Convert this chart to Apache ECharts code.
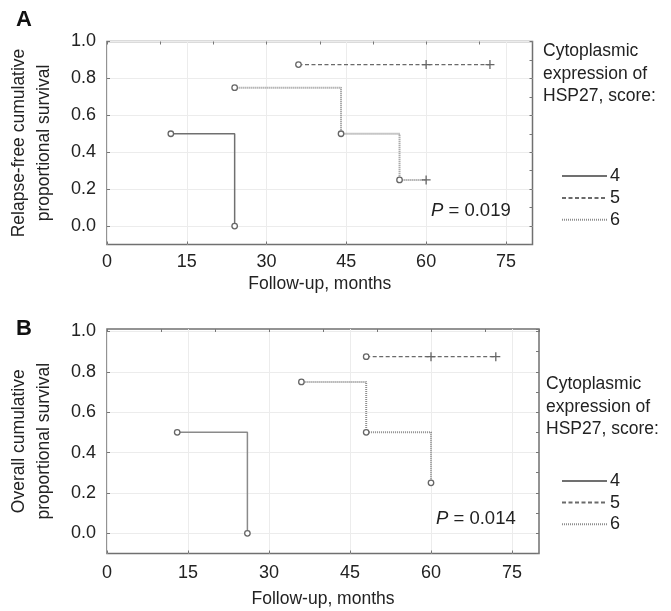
<!DOCTYPE html>
<html>
<head>
<meta charset="utf-8">
<script src="https://cdn.jsdelivr.net/npm/echarts@6/dist/echarts.min.js"></script>
<style>
html, body { margin: 0; background: #fff; }
#chart { width: 671px; height: 611px; }
</style>
</head>
<body>
<div id="chart"></div>
<script>
// tick labels
const monthTicks = [0, 15, 30, 45, 60, 75]
const survTicks = [0, 0.2, 0.4, 0.6, 0.8, 1.0]
const scoreNames = ['4', '5', '6']

// panel A: relapse-free survival (1 = censored, drawn as +)
const aTime4 = [12, 24], aSurv4 = [0.5, 0], aCens4 = [0, 0]
const aTime5 = [36, 60, 72], aSurv5 = [0.875, 0.875, 0.875], aCens5 = [0, 1, 1]
const aTime6 = [24, 44, 55, 60], aSurv6 = [0.75, 0.5, 0.25, 0.25], aCens6 = [0, 0, 0, 1]

// panel B: overall survival
const bTime4 = [13, 26], bSurv4 = [0.5, 0], bCens4 = [0, 0]
const bTime5 = [48, 60, 72], bSurv5 = [0.875, 0.875, 0.875], bCens5 = [0, 1, 1]
const bTime6 = [36, 48, 60], bSurv6 = [0.75, 0.5, 0.25], bCens6 = [0, 0, 0]

const FONT = '"Liberation Sans", Arial, sans-serif'
const plus = 'path://M0,5H10M5,0V10'

function points(times, surv, cens) {
    return times.map((t, i) => ({
        value: [t, surv[i]],
        symbol: cens[i] ? plus : 'circle',
        symbolSize: cens[i] ? 9 : 5.5
    }))
}

const styles = {
    '4': { color: '#707070', width: 1.5, type: 'solid' },
    '5': { color: '#6a6a6a', width: 1.3, type: [4, 2.5] },
    '6': { color: '#8e8e8e', width: 2, type: [1, 1] }
}

function kmSeries(name, axisIdx, data, colorOverride) {
    const ls = Object.assign({}, styles[name])
    if (colorOverride) ls.color = colorOverride
    return {
        name: name,
        type: 'line',
        step: 'end',
        xAxisIndex: axisIdx,
        yAxisIndex: axisIdx,
        symbol: 'none',
        showSymbol: true,
        silent: true,
        animation: false,
        data: data,
        lineStyle: ls,
        itemStyle: { color: '#fff', borderColor: '#666', borderWidth: 1.3 },
        z: name === '4' ? 4 : 3
    }
}

function axesFor(grid, yMax, labelMargin, nameGap, yName) {
    const lbl = { fontFamily: FONT, fontSize: 18, color: '#222' }
    const hiddenLine = { show: false, onZero: false }
    const x = [{
        gridIndex: grid, type: 'value', min: 0, max: 80, position: 'bottom',
        name: 'Follow-up, months', nameLocation: 'middle', nameGap: nameGap,
        nameTextStyle: { fontFamily: FONT, fontSize: 17.5, color: '#222' },
        axisLine: hiddenLine,
        axisTick: { show: true, inside: true, length: 3, customValues: monthTicks, lineStyle: { color: '#777' } },
        axisLabel: Object.assign({ margin: labelMargin, customValues: monthTicks }, lbl),
        splitLine: { show: true, lineStyle: { color: '#ececec', width: 1 } }
    }, {
        gridIndex: grid, type: 'value', min: 0, max: 80, interval: 10, position: 'top',
        axisLine: hiddenLine,
        axisTick: { show: true, inside: true, length: 3, lineStyle: { color: '#777' } },
        axisLabel: { show: false },
        splitLine: { show: false }
    }]
    const y = [{
        gridIndex: grid, type: 'value', min: -0.1, max: yMax, position: 'left',
        name: yName, nameLocation: 'middle', nameGap: 50,
        nameTextStyle: { fontFamily: FONT, fontSize: 17.5, color: '#222', lineHeight: 25 },
        axisLine: hiddenLine,
        axisTick: { show: true, inside: true, length: 3, customValues: survTicks, lineStyle: { color: '#777' } },
        axisLabel: Object.assign({
            margin: 11, customValues: survTicks,
            formatter: v => v.toFixed(1)
        }, lbl),
        splitLine: { show: true, lineStyle: { color: '#ececec', width: 1 } }
    }, {
        gridIndex: grid, type: 'value', min: -0.1, max: yMax, interval: 0.1, position: 'right',
        axisLine: hiddenLine,
        axisTick: { show: true, inside: true, length: 3, lineStyle: { color: '#777' } },
        axisLabel: { show: false },
        splitLine: { show: false }
    }]
    return { x, y }
}

const axA = axesFor(0, 1.0, 9, 31, 'Relapse-free cumulative\nproportional survival')
const axB = axesFor(1, 1.012, 10.5, 37, 'Overall cumulative\nproportional survival')

const titleFont = { fontFamily: FONT, fontSize: 17.5, color: '#222', lineHeight: 22.5, fontWeight: 'normal' }
const pRich = {
    i: { fontFamily: FONT, fontSize: 18.5, fontStyle: 'italic', fontWeight: 'normal', color: '#222' },
    n: { fontFamily: FONT, fontSize: 18.5, fontWeight: 'normal', color: '#222' }
}
const legendBase = {
    orient: 'vertical', left: 561, padding: 0,
    itemWidth: 45, itemHeight: 14, selectedMode: false,
    itemStyle: { opacity: 0 },
    textStyle: { fontFamily: FONT, fontSize: 18, lineHeight: 14, color: '#222', padding: [0, 0, 0, -2] }
}

const chart = echarts.init(document.getElementById('chart'), null, { renderer: 'canvas' })
chart.setOption({
    backgroundColor: '#fff',
    animation: false,
    title: [
        { text: 'A', left: 16, top: 9, padding: 0, textStyle: { fontFamily: FONT, fontSize: 22, fontWeight: 'bold', color: '#111' } },
        { text: 'B', left: 16, top: 318, padding: 0, textStyle: { fontFamily: FONT, fontSize: 22, fontWeight: 'bold', color: '#111' } },
        { text: 'Cytoplasmic\nexpression of\nHSP27, score:', left: 543, top: 40, padding: 0, textStyle: titleFont },
        { text: 'Cytoplasmic\nexpression of\nHSP27, score:', left: 546, top: 373, padding: 0, textStyle: titleFont },
        { text: '{i|P}{n| = 0.019}', left: 431, top: 201, padding: 0, textStyle: { rich: pRich } },
        { text: '{i|P}{n| = 0.014}', left: 436, top: 509, padding: 0, textStyle: { rich: pRich } }
    ],
    legend: [
        Object.assign({ data: scoreNames, top: 167, itemGap: 3.9 }, legendBase),
        Object.assign({ data: scoreNames, top: 472, itemGap: 3.6 }, legendBase)
    ],
    grid: [
        { left: 107, top: 41.5, width: 425.5, height: 203, outerBoundsMode: 'none', show: true, borderColor: '#707070', borderWidth: 1.5, backgroundColor: '#fff' },
        { left: 107, top: 329, width: 432, height: 224.5, outerBoundsMode: 'none', show: true, borderColor: '#707070', borderWidth: 1.5, backgroundColor: '#fff' }
    ],
    xAxis: [...axA.x, ...axB.x],
    yAxis: [...axA.y, ...axB.y],
    series: [
        kmSeries('4', 0, points(aTime4, aSurv4, aCens4)),
        kmSeries('5', 0, points(aTime5, aSurv5, aCens5)),
        kmSeries('6', 0, points(aTime6, aSurv6, aCens6)),
        kmSeries('4', 2, points(bTime4, bSurv4, bCens4), '#8a8a8a'),
        kmSeries('5', 2, points(bTime5, bSurv5, bCens5)),
        kmSeries('6', 2, points(bTime6, bSurv6, bCens6))
    ]
})
</script>
</body>
</html>
